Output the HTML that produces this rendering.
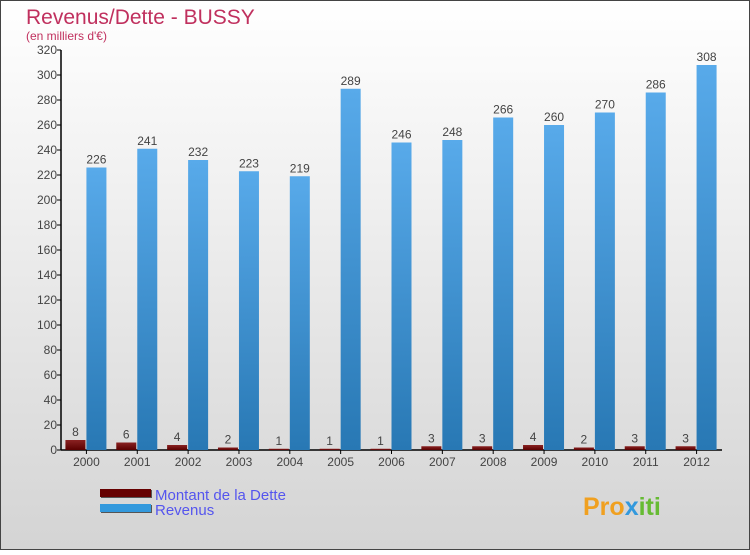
<!DOCTYPE html>
<html><head><meta charset="utf-8"><style>
body{margin:0}
#wrap{width:750px;height:550px;position:relative;font-family:"Liberation Sans",sans-serif}
</style></head><body>
<div id="wrap">
<svg id="chart" width="750" height="550" font-family="Liberation Sans, sans-serif">
<defs>
<linearGradient id="bg" x1="0" y1="0" x2="0" y2="1"><stop offset="0" stop-color="#ffffff"/><stop offset="1" stop-color="#d4d4d4"/></linearGradient>
<linearGradient id="rev" x1="0" y1="0" x2="0" y2="1"><stop offset="0" stop-color="#58aaea"/><stop offset="1" stop-color="#2878b4"/></linearGradient>
<linearGradient id="debt" x1="0" y1="0" x2="0" y2="1"><stop offset="0" stop-color="#8a2222"/><stop offset="1" stop-color="#5a0000"/></linearGradient>
</defs>
<rect x="0.5" y="0.5" width="749" height="549" fill="url(#bg)" stroke="#444"/>
<text x="26" y="24" font-size="21" fill="#c0305e">Revenus/Dette - BUSSY</text>
<text x="26" y="40" font-size="12" fill="#c0305e">(en milliers d'€)</text>
<g id="axes"></g>
<g id="bars"></g>
<g>
<rect x="101" y="490" width="51" height="8" fill="#555"/>
<rect x="100" y="489" width="51" height="8" fill="#660000"/>
<text x="155" y="500" font-size="15" fill="#5555ee">Montant de la Dette</text>
<rect x="101" y="505" width="51" height="8" fill="#555"/>
<rect x="100" y="504" width="51" height="8" fill="#3399dd"/>
<text x="155" y="515" font-size="15" fill="#5555ee">Revenus</text>
</g>
<text x="583" y="515" font-size="25" font-weight="bold" fill="#f0a020">Pro<tspan fill="#3399dd">x</tspan><tspan fill="#66bb33">iti</tspan></text>
</svg>
</div>
<script>
const years=["2000","2001","2002","2003","2004","2005","2006","2007","2008","2009","2010","2011","2012"];
const debt=[8,6,4,2,1,1,1,3,3,4,2,3,3];
const revenue=[226,241,232,223,219,289,246,248,266,260,270,286,308];
const yTicks=[0,20,40,60,80,100,120,140,160,180,200,220,240,260,280,300,320];
const NS="http://www.w3.org/2000/svg";
const x0=61,x1=722,y0=450,yTop=50,yMax=320;
const bw=(x1-x0)/years.length;
function y(v){return y0-(v/yMax)*(y0-yTop);}
function xc(i){return x0+bw*(i+0.5);}
function mk(t,a,p){const e=document.createElementNS(NS,t);for(const k in a)e.setAttribute(k,a[k]);p.appendChild(e);return e;}
const ax=document.getElementById('axes'),bars=document.getElementById('bars');
yTicks.forEach(v=>{
 const l=mk('line',{x1:x0-4,x2:x0,y1:y(v),y2:y(v),stroke:'#000'},ax);
 
 
 const t=mk('text',{x:x0-4,y:y(v)+4,'text-anchor':'end','font-size':12,fill:'#444'},ax);
 t.textContent=v;
 
 
});
years.forEach((yr,i)=>{
 const c=xc(i);
 const d=mk('rect',{x:c-21,y:y(debt[i]),width:20,height:y0-y(debt[i]),fill:'url(#debt)'},bars);
 
 
 const r=mk('rect',{x:c,y:y(revenue[i]),width:20,height:y0-y(revenue[i]),fill:'url(#rev)'},bars);
 
 
 const dl=mk('text',{x:c-11,y:y(debt[i])-4,'text-anchor':'middle','font-size':12,fill:'#444'},bars);
 dl.textContent=debt[i];
 
 
 const rl=mk('text',{x:c+10,y:y(revenue[i])-4,'text-anchor':'middle','font-size':12,fill:'#444'},bars);
 rl.textContent=revenue[i];
 
 
 const tk=mk('line',{x1:c,x2:c,y1:y0,y2:y0+4,stroke:'#000'},ax);
 
 
 const xl=mk('text',{x:c,y:y0+16,'text-anchor':'middle','font-size':12,fill:'#444'},ax);
 xl.textContent=yr;
 
 
});
const ya=mk('line',{x1:x0,x2:x0,y1:yTop,y2:y0,stroke:'#000','stroke-width':1.5},ax);


const xa=mk('line',{x1:x0,x2:x1,y1:y0,y2:y0,stroke:'#000','stroke-width':1.5},ax);


</script>
</body></html>
